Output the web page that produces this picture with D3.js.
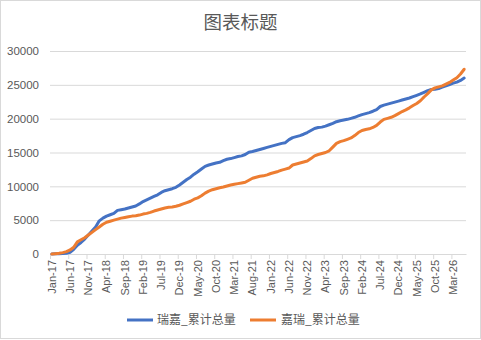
<!DOCTYPE html>
<html><head><meta charset="utf-8">
<script src="https://cdn.jsdelivr.net/npm/d3@7"></script>
<style>body{margin:0;background:#fff}svg{display:block}</style>
</head><body><svg id="c" width="481" height="340"></svg>
<script>
const title = "图表标题";
const seriesNames = ["瑞嘉_累计总量", "嘉瑞_累计总量"];
const colors = ["#4472C4", "#ED7D31"];
const startMonth = "2017-01";
const yTicks = [0, 5000, 10000, 15000, 20000, 25000, 30000];
const ruijia = [0,20,40,60,100,250,700,1300,1700,2200,2800,3400,4000,4900,5300,5600,5800,6000,6450,6550,
6650,6800,6950,7100,7400,7750,8000,8250,8500,8750,9100,9350,9500,9650,9850,10200,10600,11000,11350,11800,
12150,12550,12950,13150,13300,13450,13550,13800,14000,14100,14250,14400,14500,14700,15050,15150,15300,15450,15600,15750,
15900,16050,16200,16350,16450,16900,17200,17350,17500,17700,17950,18250,18550,18700,18750,18900,19100,19300,19550,19700,
19800,19900,20050,20200,20400,20600,20750,20900,21100,21350,21800,22000,22150,22300,22450,22600,22750,22900,23050,23250,
23450,23650,23900,24150,24300,24350,24450,24650,24850,25050,25250,25400,25650,26000];
const jiarui = [0,50,100,200,350,600,1000,1800,2100,2400,2800,3200,3600,4000,4400,4700,4850,5000,5150,5300,
5400,5500,5600,5650,5750,5900,6000,6150,6350,6500,6650,6800,6900,6950,7050,7200,7400,7600,7800,8100,
8300,8600,9000,9300,9500,9650,9800,9900,10050,10200,10300,10400,10500,10600,10900,11200,11350,11500,11550,11700,
11900,12050,12200,12400,12550,12700,13150,13300,13450,13600,13750,14100,14500,14700,14850,15000,15250,15800,16350,16600,
16750,16950,17150,17500,17950,18250,18400,18500,18700,19000,19500,19900,20050,20200,20450,20750,21050,21300,21600,21950,
22250,22650,23200,23700,24250,24550,24700,24850,25100,25350,25700,26050,26600,27300];

const parse = d3.timeParse("%Y-%m");
const fmt = d3.timeFormat("%b-%y");
const start = parse(startMonth);
const months = ruijia.map((_, i) => d3.timeMonth.offset(start, i));

const svg = d3.select("#c");
svg.append("rect").attr("x",0.5).attr("y",0.5).attr("width",480).attr("height",338)
  .attr("fill","#fff").attr("stroke","#d9d9d9");

const pL = 50, pR = 466, pT = 51, pB = 254;
const x = d3.scaleBand().domain(months.map((d,i)=>i)).range([pL, pR]).padding(0);
const y = d3.scaleLinear().domain([0, 30000]).range([pB, pT]);
const cx = i => x(i) + x.bandwidth()/2;

svg.append("text").attr("x", 240.5).attr("y", 29).attr("text-anchor","middle")
  .attr("font-family","'Noto Sans CJK SC', sans-serif").attr("font-size",18.5).attr("fill","#595959").text(title);

const yAxis = d3.axisLeft(y).tickValues(yTicks).tickSize(-(pR-pL)).tickFormat(d3.format("d")).tickPadding(11);
const gy = svg.append("g").attr("transform",`translate(${pL},0)`).call(yAxis);
gy.select(".domain").remove();
gy.selectAll(".tick line").attr("stroke","#d9d9d9");
gy.selectAll(".tick text").attr("fill","#595959").attr("font-size",11.5)
  .attr("font-family","'Liberation Sans', Arial, sans-serif");

const tickIdx = months.map((d,i)=>i).filter(i => i % 5 === 0);
const xAxis = d3.axisBottom(x).tickValues(tickIdx).tickSize(0).tickFormat(i => fmt(months[i]));
const gx = svg.append("g").attr("transform",`translate(0,${pB})`).call(xAxis);
gx.select(".domain").attr("stroke","#d9d9d9");
gx.selectAll(".tick text").attr("fill","#595959").attr("font-size",11)
  .attr("font-family","'Liberation Sans', Arial, sans-serif")
  .attr("transform","rotate(-90)").attr("text-anchor","end")
  .attr("x",-6).attr("y",0).attr("dy","0.35em");
gx.selectAll(".bnd").data(tickIdx).enter().append("line")
  .attr("x1", i => x(i)+0.5).attr("x2", i => x(i)+0.5).attr("y1",0).attr("y2",5)
  .attr("stroke","#d9d9d9");

const line = d3.line().x((d,i)=>cx(i)).y(d=>y(d));
[ruijia, jiarui].forEach((s,k) => {
  svg.append("path").datum(s).attr("d", line).attr("fill","none")
    .attr("stroke", colors[k]).attr("stroke-width",3).attr("stroke-linejoin","round").attr("stroke-linecap","round");
});

const lg = [{x:127, tx:157},{x:250, tx:281}];
seriesNames.forEach((n,k) => {
  svg.append("line").attr("x1",lg[k].x).attr("x2",lg[k].x+26).attr("y1",320).attr("y2",320)
    .attr("stroke",colors[k]).attr("stroke-width",3);
  svg.append("text").attr("x",lg[k].tx).attr("y",320).attr("dy","0.35em")
    .attr("font-family","'Noto Sans CJK SC', sans-serif").attr("font-size",12).attr("fill","#595959").text(n);
});
</script></body></html>
